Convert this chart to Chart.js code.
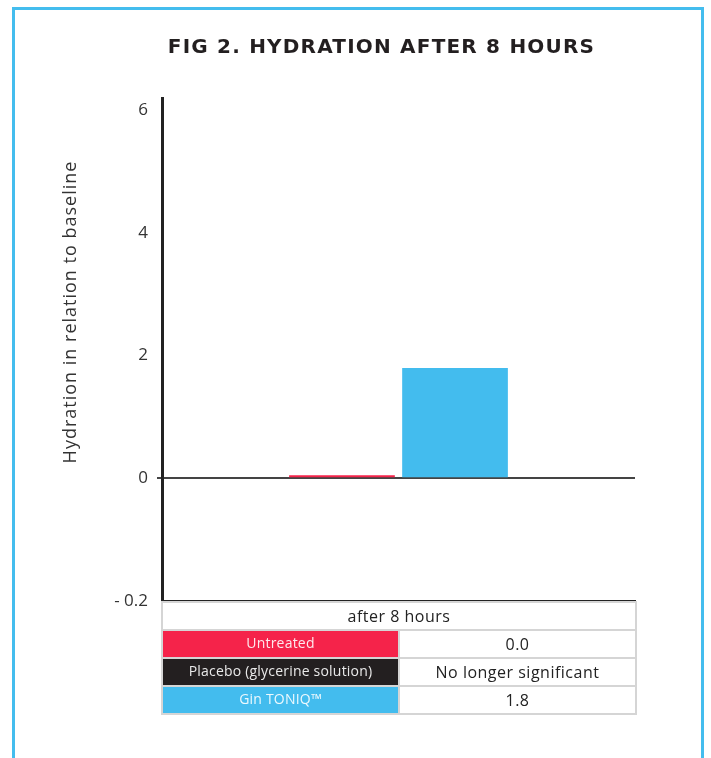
<!DOCTYPE html>
<html>
<head>
<meta charset="utf-8">
<title>Fig 2. Hydration after 8 hours</title>
<script src="https://cdn.jsdelivr.net/npm/chart.js@4.4.1/dist/chart.umd.min.js"></script>
<style>
    html, body {
        margin: 0;
        padding: 0;
        background: #ffffff;
    }
    #page {
        position: relative;
        width: 711px;
        height: 758px;
        overflow: hidden;
    }
    #frame {
        position: absolute;
        left: 12px;
        top: 7px;
        width: 686px;
        height: 800px;
        border: 3px solid #44bdee;
        border-bottom: none;
    }
    #chartTitle {
        position: absolute;
        left: 1px;
        top: 34px;
        width: 761px;
        text-align: center;
        font-family: "DejaVu Sans", sans-serif;
        font-weight: bold;
        font-size: 20px;
        letter-spacing: 1.2px;
        color: #231f20;
        white-space: nowrap;
    }
    #chartBox {
        position: absolute;
        left: 0;
        top: 0;
        width: 711px;
        height: 758px;
    }
    #dataTable {
        position: absolute;
        left: 161px;
        top: 601px;
        width: 476px;
        border-collapse: collapse;
        border: 2px solid #d5d5d5;
        font-family: "Open Sans", sans-serif;
        table-layout: fixed;
    }
    #dataTable td {
        height: 26px;
        padding: 0;
        border: 2px solid #d5d5d5;
        text-align: center;
        font-size: 16px;
        letter-spacing: 0.5px;
        color: #222222;
    }
    #dataTable td.series {
        width: 235px;
        font-size: 14px;
        letter-spacing: 0.2px;
        color: rgba(255, 255, 255, 0.9);
        vertical-align: top;
        padding-top: 2px;
        height: 24px;
    }
</style>
</head>
<body>
<div id="page">
    <div id="frame"></div>
    <div id="chartBox"><canvas id="hydrationChart" width="711" height="758"></canvas></div>
    <div id="chartTitle">FIG 2. HYDRATION AFTER 8 HOURS</div>
    <table id="dataTable"></table>
</div>

<script>
// Data
const categories = ['after 8 hours'];
const seriesNames = ['Untreated', 'Placebo (glycerine solution)', 'Gin TONIQ\u2122'];
const untreatedValues = [0.05];
const placeboValues = [null];
const ginTonicValues = [1.8];
const tableValues = ['0.0', 'No longer significant', '1.8'];
const tickValues = [6, 4, 2, 0, -0.2];

const colors = {
    untreated: '#f5234a',
    placebo: '#231f20',
    gin: '#43bcee',
    axis: '#222222',
    text: '#333333'
};

// The axis is broken: 0..6 is drawn in steps of 2, below zero one step is 0.2
function toAxis(v) {
    if (v === null) return null;
    return v >= 0 ? v / 2 : v / 0.2;
}

function fromAxis(p) {
    return p >= 0 ? p * 2 : p * 0.2;
}

function tickLabel(p) {
    const v = Math.round(fromAxis(p) * 10) / 10;
    return v < 0 ? '- ' + Math.abs(v) : String(v);
}

// Rotated y-axis title, sits a little above the middle of the axis in the original
const yTitlePlugin = {
    id: 'yTitle',
    afterDraw(chart) {
        const ctx = chart.ctx;
        const area = chart.chartArea;
        ctx.save();
        ctx.translate(area.left - 91, area.top + 214);
        ctx.rotate(-Math.PI / 2);
        ctx.font = '18px "Open Sans", sans-serif';
        ctx.letterSpacing = '1px';
        ctx.fillStyle = colors.text;
        ctx.textAlign = 'center';
        ctx.textBaseline = 'middle';
        ctx.fillText('Hydration in relation to baseline', 0, 0);
        ctx.restore();
    }
};

const seriesValues = [untreatedValues, placeboValues, ginTonicValues];
const seriesColors = [colors.untreated, colors.placebo, colors.gin];

new Chart(document.getElementById('hydrationChart'), {
    type: 'bar',
    data: {
        labels: categories,
        datasets: seriesNames.map((name, i) => ({
            label: name,
            data: seriesValues[i].map(toAxis),
            backgroundColor: seriesColors[i],
            borderWidth: 0,
            skipNull: true,
            categoryPercentage: 0.478,
            barPercentage: 0.935
        }))
    },
    options: {
        responsive: false,
        animation: false,
        layout: {
            padding: { top: 98, right: 76, bottom: 0, left: 0 }
        },
        plugins: {
            legend: { display: false },
            title: { display: false },
            tooltip: { enabled: false }
        },
        scales: {
            x: {
                ticks: { display: false },
                grid: { display: false, drawTicks: false },
                border: { display: true, color: colors.axis, width: 3 },
                afterFit: scale => { scale.height = 157; }
            },
            y: {
                min: -1,
                max: 3.1,
                z: 1,
                afterBuildTicks: axis => {
                    axis.ticks = tickValues.map(v => ({ value: toAxis(v) }));
                },
                afterFit: scale => { scale.width = 162; },
                ticks: {
                    padding: 9,
                    color: colors.text,
                    font: { family: '"Open Sans", sans-serif', size: 17 },
                    callback: value => tickLabel(value)
                },
                grid: {
                    drawOnChartArea: true,
                    tickLength: 5,
                    lineWidth: 2,
                    color: ctx => (ctx.tick && ctx.tick.value === 0 ? '#444444' : 'transparent'),
                    tickColor: ctx => (ctx.tick && ctx.tick.value === 0 ? '#444444' : 'transparent')
                },
                border: { display: true, color: colors.axis, width: 3 }
            }
        }
    },
    plugins: [yTitlePlugin]
});

// Data table under the plot
const table = document.getElementById('dataTable');
let html = '<tr><td colspan="2">' + categories[0] + '</td></tr>';
seriesNames.forEach((name, i) => {
    html += '<tr><td class="series" style="background:' + seriesColors[i] + '">' + name + '</td>' +
        '<td>' + tableValues[i] + '</td></tr>';
});
table.innerHTML = html;
</script>
</body>
</html>
